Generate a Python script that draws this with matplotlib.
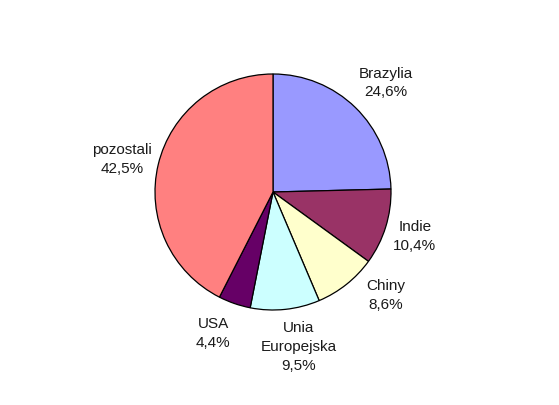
import numpy as np
import matplotlib.pyplot as plt

plt.rcParams['font.family'] = ['Liberation Sans', 'DejaVu Sans']

labels = ['Brazylia', 'Indie', 'Chiny', 'Unia\nEuropejska', 'USA', 'pozostali']
values = [24.6, 10.4, 8.6, 9.5, 4.4, 42.5]
colors = ['#9999FF', '#993366', '#FFFFCC', '#CCFFFF', '#660066', '#FF8080']

# label placement (angle in degrees, distance in radii) as Excel put them
lab_ang = [44, -17.6, -42.6, -80.5, -113, 168]
lab_dist = [1.33, 1.26, 1.30, 1.33, 1.30, 1.31]

fig = plt.figure(figsize=(5.59, 4.05), dpi=100)
ax = fig.add_axes([0, 0, 1, 1])

cx, cy, r = 273, 213, 118
ax.pie(values, colors=colors, startangle=90, counterclock=False,
       center=(cx, cy), radius=r, frame=True,
       wedgeprops=dict(edgecolor='black', linewidth=0.9))
ax.set_xlim(0, 559)
ax.set_ylim(0, 405)
ax.set_aspect('equal')
ax.axis('off')

for lab, v, a, d in zip(labels, values, lab_ang, lab_dist):
    t = np.deg2rad(a)
    txt = lab + '\n' + ('%.1f%%' % v).replace('.', ',')
    ax.text(cx + d * r * np.cos(t), cy + d * r * np.sin(t), txt,
            ha='center', va='center', fontsize=11, linespacing=1.45,
            color='#1a1a1a')

fig.savefig('out.png', dpi=100)
